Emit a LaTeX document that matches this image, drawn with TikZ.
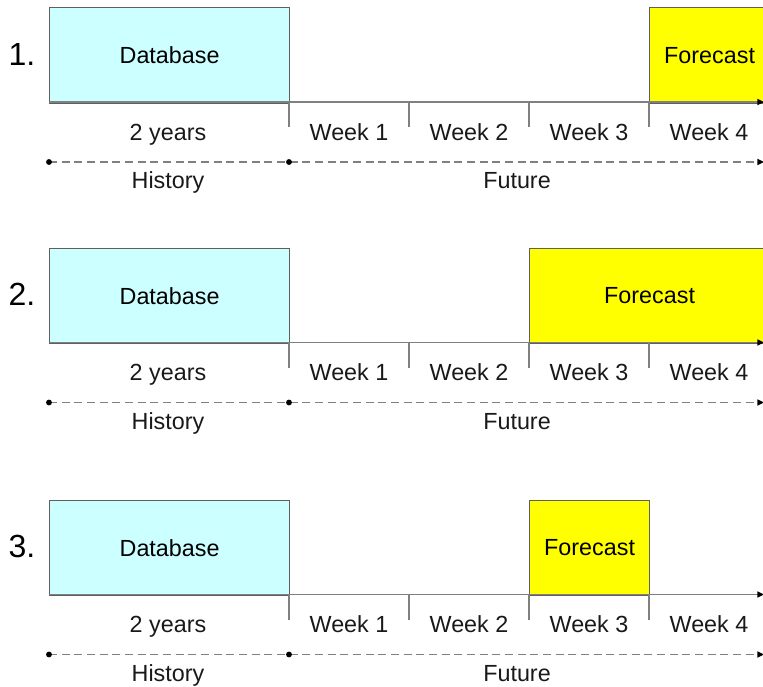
\documentclass[tikz,border=0pt]{standalone}
\usepackage{fontspec}
\setmainfont{Liberation Sans}
\usetikzlibrary{arrows.meta}

\definecolor{dbcyan}{RGB}{204,255,255}
\definecolor{fcyellow}{RGB}{255,255,0}
\definecolor{boxgray}{RGB}{95,95,95}
\definecolor{axisgray}{RGB}{128,128,128}

\begin{document}
\begin{tikzpicture}[x=0.75pt,y=0.75pt,yscale=-1,xscale=1,
	panelbox/.style={draw=boxgray,line width=0.9pt,anchor=north west,inner sep=0pt,minimum height=71.5pt,font=\fontsize{17.5}{20}\selectfont},
	dbbox/.style={panelbox,fill=dbcyan,minimum width=180pt},
	fcbox/.style={panelbox,fill=fcyellow},
	lbl/.style={inner sep=0.75pt,text=black!90,text height=9.5pt,text depth=3.5pt,font=\fontsize{17.5}{20}\selectfont},
	numlbl/.style={inner sep=0.75pt,font=\fontsize{24}{26}\selectfont},
	axisline/.style={draw=axisgray,line width=1.1pt,-{Triangle[length=5pt,width=4.5pt,color=black]}},
	tickline/.style={draw=axisgray,line width=1.1pt},
	timeline/.style={draw=axisgray,line width=1.1pt,dash pattern=on 6pt off 3.5pt,-{Triangle[length=5pt,width=4.5pt,color=black]}}]
	\useasboundingbox (0,0) rectangle (763,686);
	\clip (0,0) rectangle (763,686);

	% the three scenarios share the same time axis
	\foreach \p/\dy in {1/0,2/240.5,3/492.5} {
	\begin{scope}[shift={(0,\dy)}]
	\node[numlbl] (num\p) at (22,54) {\p.};
	\node[dbbox] (db\p) at (49,7) {Database};
	\ifcase\p\or
		\node[fcbox,minimum width=90pt] (fc\p) at (649,7) {Forecast};
	\or
		\node[fcbox,minimum width=180pt] (fc\p) at (529,7) {Forecast};
	\or
		\node[fcbox,minimum width=90pt] (fc\p) at (529,7) {Forecast};
	\fi
	\coordinate (ax\p) at (49,102);
	\coordinate (axe\p) at (764,102);
	\draw[axisline] (ax\p) -- (axe\p);
	\foreach \t in {289,409,529,649}
		\draw[tickline] (\t,102) -- (\t,127);
	\node[lbl] (yr\p) at (168,136) {2 years};
	\foreach \w in {1,...,4}
		\node[lbl] (wk\p\w) at ({229+120*\w},136) {Week \w};
	% history / future split
	\coordinate (hs\p) at (49,162);
	\coordinate (hm\p) at (289,162);
	\coordinate (he\p) at (764,162);
	\draw[timeline] (hs\p) -- (he\p);
	\fill (hs\p) circle (2.2pt) (hm\p) circle (2.2pt);
	\node[lbl] (hist\p) at (168,184.5) {History};
	\node[lbl] (fut\p) at (517,184.5) {Future};
	\end{scope}
	}
\end{tikzpicture}
\end{document}
